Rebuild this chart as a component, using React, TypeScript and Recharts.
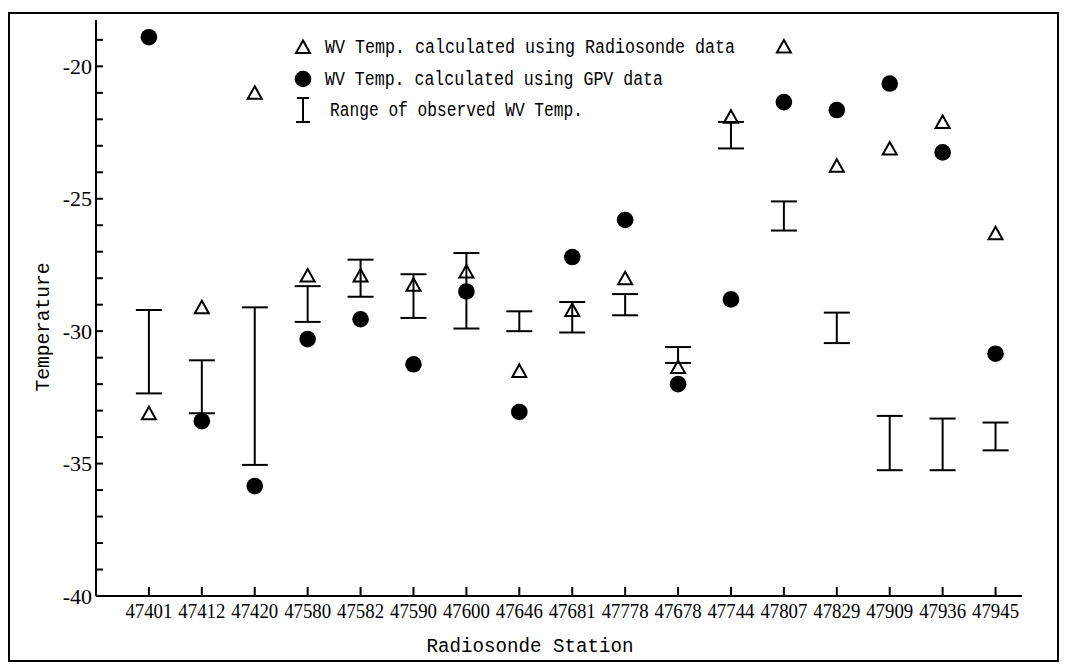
import { ComposedChart, Scatter, XAxis, YAxis, ErrorBar, Label } from "recharts"

const stations = [
  "47401", "47412", "47420", "47580", "47582", "47590", "47600", "47646", "47681",
  "47778", "47678", "47744", "47807", "47829", "47909", "47936", "47945",
]
const radiosondeTemp = [
  -33.1, -29.1, -21.0, -27.9, -27.9, -28.25, -27.75, -31.5, -29.2,
  -28.0, -31.35, -21.9, -19.25, -23.75, -23.1, -22.1, -26.3,
]
const gpvTemp = [
  -18.9, -33.4, -35.85, -30.3, -29.55, -31.25, -28.5, -33.05, -27.2,
  -25.8, -32.0, -28.8, -21.35, -21.65, -20.65, -23.25, -30.85,
]
const observedLow = [
  -32.35, -33.1, -35.05, -29.65, -28.7, -29.5, -29.9, -30.0, -30.05,
  -29.4, -31.2, -23.1, -26.2, -30.45, -35.25, -35.25, -34.5,
]
const observedHigh = [
  -29.2, -31.1, -29.1, -28.3, -27.3, -27.85, -27.05, -29.25, -28.9,
  -28.6, -30.6, -22.1, -25.1, -29.3, -33.2, -33.3, -33.45,
]
const yTicks = [
  -40, -39, -38, -37, -36, -35, -34, -33, -32, -31, -30, -29, -28, -27, -26, -25,
  -24, -23, -22, -21, -20, -19,
]
const xTicks = stations.map((_, i) => i)

const data = stations.map((s, i) => ({
  idx: i,
  station: s,
  radiosonde: radiosondeTemp[i],
  gpv: gpvTemp[i],
  obsMid: (observedLow[i] + observedHigh[i]) / 2,
  obsErr: (observedHigh[i] - observedLow[i]) / 2,
}))

const MONO = "'Liberation Mono', 'DejaVu Sans Mono', monospace"
const SERIF = "'Liberation Serif', 'DejaVu Serif', serif"

const Triangle = (props: any) => {
  const { cx, cy } = props
  return (
    <path
      d={`M${cx},${cy - 6.5} L${cx + 7},${cy + 6} L${cx - 7},${cy + 6} Z`}
      fill="none"
      stroke="#000"
      strokeWidth={2}
    />
  )
}

const Dot = (props: any) => <circle cx={props.cx} cy={props.cy} r={8.3} fill="#000" />

const YTick = (props: any) => {
  const { x, y, payload } = props
  const ax = x + 4
  const v = payload.value
  return (
    <g>
      <line x1={ax} x2={ax + 7} y1={y} y2={y} stroke="#000" strokeWidth={2} />
      {v % 5 === 0 && (
        <text x={ax - 4} y={y + 7.5} textAnchor="end" fontFamily={SERIF} fontSize={22} fill="#000">
          {v}
        </text>
      )}
    </g>
  )
}

const XTick = (props: any) => {
  const { x, y, payload } = props
  const ay = y - 4
  return (
    <g>
      <line x1={x} x2={x} y1={ay} y2={ay - 9} stroke="#000" strokeWidth={2} />
      <text
        x={x}
        y={ay + 22}
        textAnchor="middle"
        fontFamily={SERIF}
        fontSize={20}
        textLength={47}
        lengthAdjust="spacingAndGlyphs"
        fill="#000"
      >
        {stations[payload.value]}
      </text>
    </g>
  )
}

const LegendBox = () => (
  <svg width={580} height={110} style={{ position: "absolute", left: 280, top: 20 }}>
    <path d="M13,6.5 L20,19 L6,19 Z" fill="none" stroke="#000" strokeWidth={2} />
    <text x={35} y={19} fontFamily={MONO} fontSize={20} textLength={410} lengthAdjust="spacingAndGlyphs">
      WV Temp. calculated using Radiosonde data
    </text>
    <circle cx={13} cy={45} r={8.3} fill="#000" />
    <text x={35} y={51} fontFamily={MONO} fontSize={20} textLength={338} lengthAdjust="spacingAndGlyphs">
      WV Temp. calculated using GPV data
    </text>
    <g stroke="#000" strokeWidth={2}>
      <line x1={13} x2={13} y1={64} y2={88} />
      <line x1={7} x2={19} y1={64} y2={64} />
      <line x1={6} x2={20} y1={88} y2={88} />
    </g>
    <text x={40} y={82} fontFamily={MONO} fontSize={20} textLength={253} lengthAdjust="spacingAndGlyphs">
      Range of observed WV Temp.
    </text>
  </svg>
)

export default function App() {
  return (
    <div
      style={{
        position: "absolute",
        left: 8,
        top: 12,
        width: 1047,
        height: 646,
        border: "2px solid #000",
        background: "#fff",
      }}
    >
      <ComposedChart width={1047} height={646} data={data} margin={{ top: 6, right: 35, left: 26, bottom: 14 }}>
        <XAxis
          dataKey="idx"
          type="number"
          domain={[-1, 16.5]}
          ticks={xTicks}
          interval={0}
          tickSize={0}
          tickMargin={4}
          tick={<XTick />}
          axisLine={{ stroke: "#000", strokeWidth: 2 }}
          height={50}
        >
          <Label
            content={(p: any) => (
              <text
                x={p.viewBox.x + 434}
                y={p.viewBox.y + 56}
                textAnchor="middle"
                fontFamily={MONO}
                fontSize={20}
                textLength={207}
                lengthAdjust="spacingAndGlyphs"
                fill="#000"
              >
                Radiosonde Station
              </text>
            )}
          />
        </XAxis>
        <YAxis
          type="number"
          domain={[-40, -18.25]}
          ticks={yTicks}
          interval={0}
          tickSize={0}
          tickMargin={4}
          tick={<YTick />}
          axisLine={{ stroke: "#000", strokeWidth: 2 }}
          width={60}
        >
          <Label
            content={() => (
              <text
                x={33}
                y={313}
                transform="rotate(-90, 33, 313)"
                textAnchor="middle"
                dominantBaseline="central"
                fontFamily={MONO}
                fontSize={20}
                textLength={129}
                lengthAdjust="spacingAndGlyphs"
                fill="#000"
              >
                Temperature
              </text>
            )}
          />
        </YAxis>
        <Scatter name="Range of observed WV Temp." dataKey="obsMid" shape={() => <g />} isAnimationActive={false}>
          <ErrorBar dataKey="obsErr" direction="y" width={13} stroke="#000" strokeWidth={2} isAnimationActive={false} />
        </Scatter>
        <Scatter name="WV Temp. calculated using Radiosonde data" dataKey="radiosonde" shape={<Triangle />} isAnimationActive={false} />
        <Scatter name="WV Temp. calculated using GPV data" dataKey="gpv" shape={<Dot />} isAnimationActive={false} />
      </ComposedChart>
      <LegendBox />
    </div>
  )
}
